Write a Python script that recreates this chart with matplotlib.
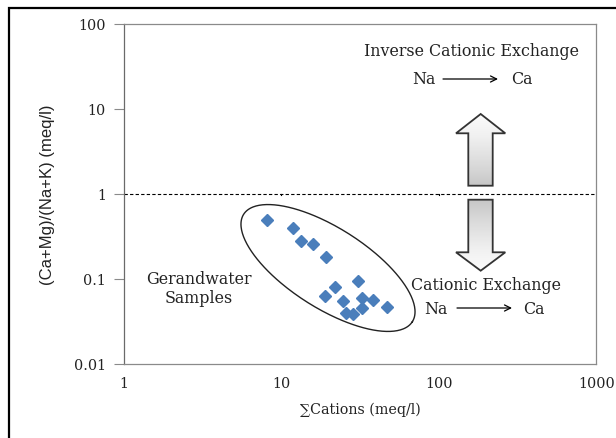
import numpy as np
import matplotlib
matplotlib.use("Agg")
import matplotlib.pyplot as plt
from matplotlib.patches import Polygon, Rectangle

# ---- data ----
total_cations = [8.1, 11.8, 13.3, 15.8, 19.2, 30.5, 21.9, 18.9, 24.5, 32.4, 38.0, 46.7, 32.4, 25.7, 28.6]
ratio = [0.49, 0.40, 0.28, 0.256, 0.18, 0.093, 0.080, 0.063, 0.054, 0.059, 0.056, 0.046, 0.045, 0.039, 0.038]
x_ticks = [1, 10, 100, 1000]
x_tick_labels = ["1", "10", "100", "1000"]
y_ticks = [0.01, 0.1, 1, 10, 100]
y_tick_labels = ["0.01", "0.1", "1", "10", "100"]

serif = ["DejaVu Serif"]
sans = ["Liberation Sans"]

fig = plt.figure(figsize=(6.16, 4.39), dpi=100)
# outer frame
fig.patches.append(Rectangle((9/616, -0.05), 1.2, (439-9)/439 + 0.05, transform=fig.transFigure,
                             fill=False, edgecolor='black', linewidth=1.6, zorder=0))

ax = fig.add_axes([124/616, (439-364.7)/439, (596.3-124)/616, (364.7-24.7)/439])
ax.set_xscale('log')
ax.set_yscale('log')
ax.set_xlim(1, 1000)
ax.set_ylim(0.01, 100)
for s in ax.spines.values():
    s.set_color('#8a8a8a')
    s.set_linewidth(0.9)
ax.spines['left'].set_color('#6a6a6a')

def fx(px):
    return (px - 124) / 472.3
def fy(py):
    return (364.7 - py) / 340.0

ax.set_xticks(x_ticks)
ax.set_xticklabels(x_tick_labels, family=serif, fontsize=10.3, color='#222222')
ax.set_yticks(y_ticks)
ax.set_yticklabels(y_tick_labels, family=serif, fontsize=10.3, color='#222222')
ax.minorticks_off()
ax.tick_params(axis='x', length=0, pad=9)
ax.tick_params(axis='y', length=7, width=0.8, color='#8a8a8a', pad=6)

ax.set_xlabel("\u2211Cations (meq/l)", family=serif, fontsize=10.3, color='#222222')
ax.xaxis.set_label_coords(0.5, fy(402.5))
ax.set_ylabel("(Ca+Mg)/(Na+K) (meq/l)", family=sans, fontsize=12, color='#222222')
ax.yaxis.set_label_coords(fx(55), 0.5)

# dashed reference line at 1
ax.axhline(1, color='black', lw=0.8, ls=(0, (3, 2)), zorder=1)
for xv in [10, 100]:
    ax.plot([xv, xv], [1, 0.97], color='black', lw=0.8, zorder=1)

# data
ax.plot(total_cations, ratio, ls='none', marker='D', markersize=6.3,
        color='#4a7ebb', markeredgecolor='#4a7ebb', zorder=4)

# ellipse around samples (computed in log space)
px_per_dec_x = 472.3 / 3
px_per_dec_y = 340.0 / 4
cx, cy = 328 - 124, 364.7 - 269
a, b, th = 100, 40, np.deg2rad(-32.5)
t = np.linspace(0, 2*np.pi, 300)
ex = cx + a*np.cos(t)*np.cos(th) - b*np.sin(t)*np.sin(th)
ey = cy + a*np.cos(t)*np.sin(th) + b*np.sin(t)*np.cos(th)
ax.plot(10**(ex/px_per_dec_x), 0.01*10**(ey/px_per_dec_y), color='#222222', lw=1.0, zorder=3)

# block arrows with gradient
def block_arrow(pts, top_light):
    poly = Polygon([(fx(p[0]), fy(p[1])) for p in pts], closed=True, transform=ax.transAxes,
                   facecolor='none', edgecolor='#333333', lw=1.3, zorder=3)
    ax.add_patch(poly)
    xs = [fx(p[0]) for p in pts]
    ys = [fy(p[1]) for p in pts]
    grad = np.linspace(0, 1, 256).reshape(-1, 1)
    if not top_light:
        grad = grad[::-1]
    im = ax.imshow(grad, cmap='Greys', vmin=-0.1, vmax=3.2, aspect='auto',
                   extent=[min(xs), max(xs), min(ys), max(ys)], transform=ax.transAxes,
                   origin='upper', zorder=2)
    im.set_clip_path(poly)

up = [(480.7, 115), (505.3, 134.3), (492.7, 134.3), (492.7, 186.7), (468.3, 186.7), (468.3, 134.3), (456, 134.3)]
down = [(468.3, 200.7), (492.7, 200.7), (492.7, 253.3), (505.3, 253.3), (480.7, 271.7), (456, 253.3), (468.3, 253.3)]
block_arrow(up, top_light=True)
block_arrow(down, top_light=False)
ax.set_xlim(1, 1000)
ax.set_ylim(0.01, 100)

# texts
txt = dict(family=serif, fontsize=11.4, color='#222222', transform=ax.transAxes, ha='center', va='center')
ax.text(fx(471), fy(52), "Inverse Cationic Exchange", **txt)
ax.text(fx(424), fy(80), "Na", **txt)
ax.text(fx(522), fy(80), "Ca", **txt)
ax.text(fx(486), fy(285), "Cationic Exchange", **txt)
ax.text(fx(436), fy(309), "Na", **txt)
ax.text(fx(534), fy(309), "Ca", **txt)
ax.text(fx(199), fy(289), "Gerandwater\nSamples", linespacing=1.1, **txt)

arrow_kw = dict(arrowstyle='->', color='black', lw=0.9, shrinkA=0, shrinkB=0, mutation_scale=11)
ax.annotate("", xy=(fx(498), fy(80)), xytext=(fx(443), fy(80)), xycoords='axes fraction',
            arrowprops=arrow_kw)
ax.annotate("", xy=(fx(512), fy(309)), xytext=(fx(457), fy(309)), xycoords='axes fraction',
            arrowprops=arrow_kw)

fig.savefig("out.png", dpi=100)
